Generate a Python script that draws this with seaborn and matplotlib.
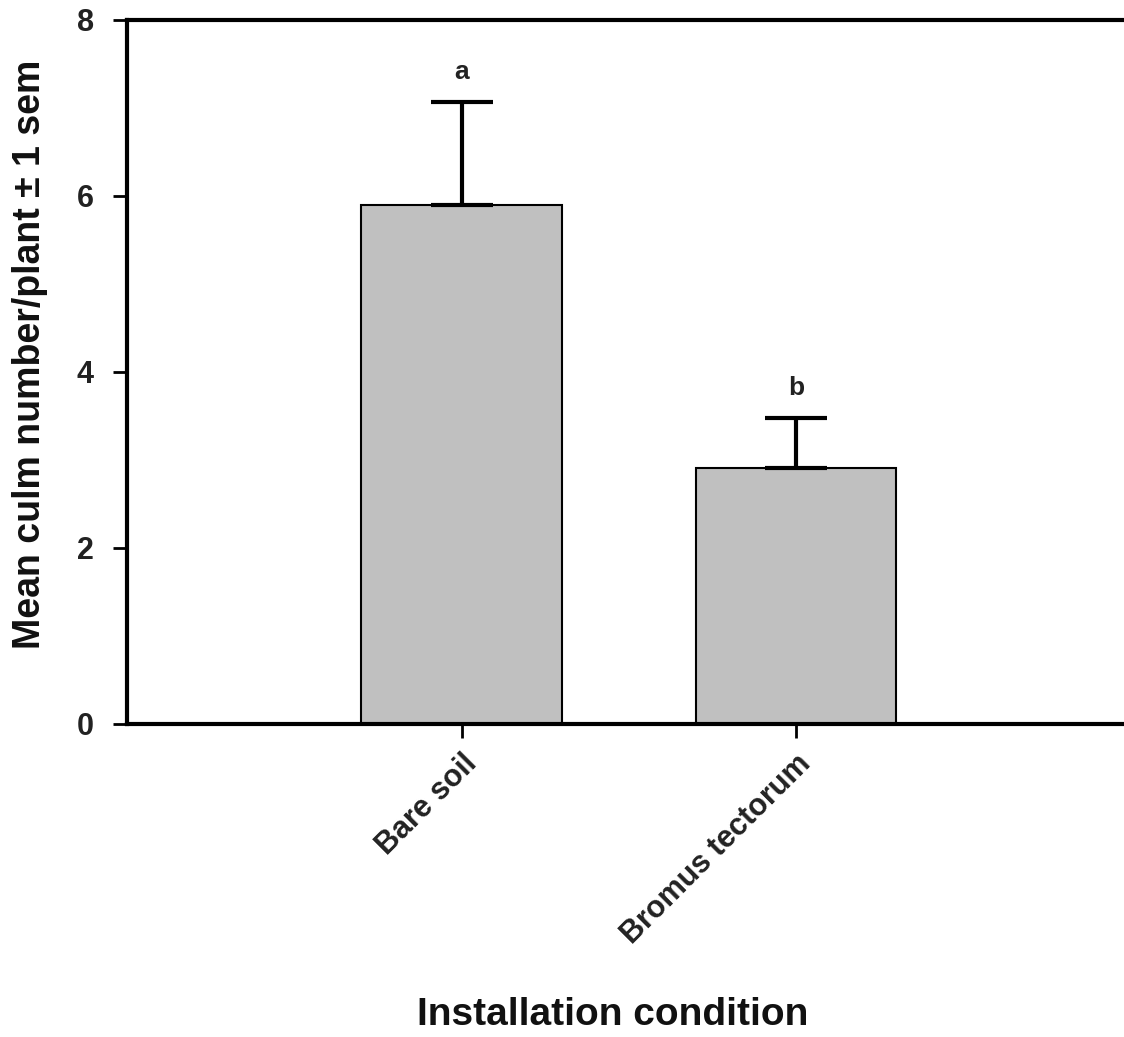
import seaborn as sns
import matplotlib.pyplot as plt
import pandas as pd

sns.set_theme(style="white")
plt.rcParams['font.family'] = ['Liberation Sans', 'DejaVu Sans']

conditions = ["Bare soil", "Bromus tectorum"]
mean_culms = [5.90, 2.91]
sem_culms = [1.17, 0.57]
letters = ["a", "b"]
y_ticks = [0, 2, 4, 6, 8]

df = pd.DataFrame({"condition": conditions, "mean": mean_culms, "sem": sem_culms})

fig = plt.figure(figsize=(11.24, 10.37), dpi=100)
ax = fig.add_axes([0.113, 0.302, 0.887, 0.679])

sns.barplot(data=df, x="condition", y="mean", color="#c0c0c0", edgecolor="black",
            linewidth=1.5, width=0.6, saturation=1, errorbar=None, ax=ax)

# upper error bars only
ax.errorbar(range(len(conditions)), df["mean"], yerr=[[0] * len(conditions), df["sem"]],
            fmt="none", ecolor="black", elinewidth=3, capsize=22, capthick=3, zorder=3)

for i, (m, s, lab) in enumerate(zip(mean_culms, sem_culms, letters)):
    ax.text(i, m + s + 0.2, lab, ha="center", va="bottom", fontsize=19,
            fontweight="bold", color="#222222")

ax.set_xlim(-1, 1.98)
ax.set_ylim(0, 8)
ax.set_yticks(y_ticks)
ax.set_yticklabels([str(t) for t in y_ticks], fontsize=22, fontweight="bold")
ax.set_xticks(range(len(conditions)))
ax.set_xticklabels(conditions, rotation=45, ha="right", rotation_mode="anchor",
                   fontsize=22, fontweight="bold")

ax.set_xlabel("")
ax.set_ylabel("")
fig.text(0.545, 0.004, "Installation condition", ha="center", va="bottom",
         fontsize=28, fontweight="bold", color="#111111")
fig.text(0.027, 0.658, "Mean culm number/plant \u00b1 1 sem", ha="center", va="center",
         rotation=90, fontsize=27, fontweight="bold", color="#111111")

for side in ["left", "bottom", "top"]:
    ax.spines[side].set_visible(True)
    ax.spines[side].set_color("black")
    ax.spines[side].set_linewidth(3)
ax.spines["right"].set_visible(False)
ax.tick_params(axis="both", direction="out", length=10, width=2, color="black",
               left=True, bottom=True, labelcolor="#222222")
ax.tick_params(axis="y", pad=14)
ax.tick_params(axis="x", pad=8)

fig.savefig("out.png", dpi=100)
